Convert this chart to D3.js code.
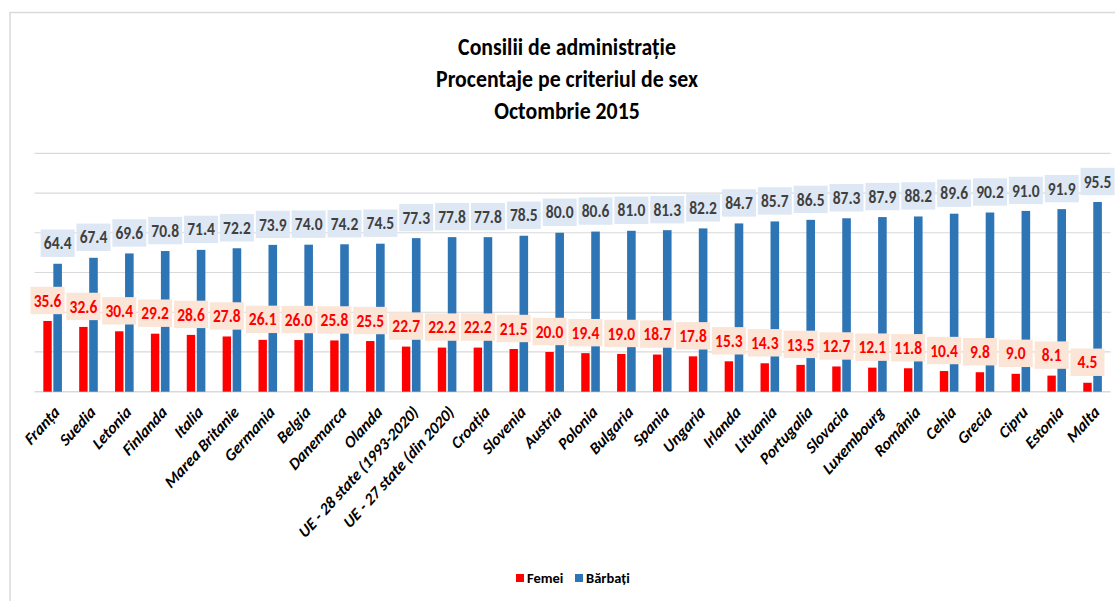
<!DOCTYPE html>
<html>
<head>
<meta charset="utf-8">
<script src="https://cdn.jsdelivr.net/npm/d3@7/dist/d3.min.js"></script>
<style>
  html, body { margin: 0; padding: 0; background: #ffffff; }
  svg { display: block; }
  text { font-family: Carlito, "Liberation Sans Narrow", "DejaVu Sans Condensed", "Liberation Sans", sans-serif; }
  text.dl { font-family: "Liberation Sans Narrow", Carlito, "DejaVu Sans Condensed", sans-serif; }
</style>
</head>
<body>
<div id="chart"></div>
<script>
const categories = ["Franța","Suedia","Letonia","Finlanda","Italia","Marea Britanie","Germania","Belgia","Danemarca","Olanda","UE - 28 state (1993-2020)","UE - 27 state (din 2020)","Croația","Slovenia","Austria","Polonia","Bulgaria","Spania","Ungaria","Irlanda","Lituania","Portugalia","Slovacia","Luxembourg","România","Cehia","Grecia","Cipru","Estonia","Malta"];
const femei = [35.6,32.6,30.4,29.2,28.6,27.8,26.1,26.0,25.8,25.5,22.7,22.2,22.2,21.5,20.0,19.4,19.0,18.7,17.8,15.3,14.3,13.5,12.7,12.1,11.8,10.4,9.8,9.0,8.1,4.5];
const barbati = [64.4,67.4,69.6,70.8,71.4,72.2,73.9,74.0,74.2,74.5,77.3,77.8,77.8,78.5,80.0,80.6,81.0,81.3,82.2,84.7,85.7,86.5,87.3,87.9,88.2,89.6,90.2,91.0,91.9,95.5];
const yTicks = [0,20,40,60,80,100,120];
const titleLines = ["Consilii de administrație","Procentaje pe criteriul de sex","Octombrie 2015"];
const seriesNames = ["Femei","Bărbați"];

const W = 1115, H = 601;
const svg = d3.select("#chart").append("svg").attr("width", W).attr("height", H);

// chart border
svg.append("path").attr("d", `M10,${H} L10,12.5 L${W},12.5`)
  .attr("fill","none").attr("stroke","#d9d9d9").attr("stroke-width",1.5);

const x = d3.scaleBand().domain(categories).range([34.8, 1110.6]).padding(0);
const y = d3.scaleLinear().domain([0,120]).range([391.7, 153.3]);

// gridlines
svg.append("g").selectAll("line").data(yTicks).join("line")
  .attr("x1", 34.5).attr("x2", 1110.6)
  .attr("y1", d => y(d)).attr("y2", d => y(d))
  .attr("stroke", "#d9d9d9").attr("stroke-width", d => d === 0 ? 1.6 : 1.2);

const cx = d => x(d) + x.bandwidth()/2;
const data = categories.map((c,i) => ({c, f: femei[i], b: barbati[i]}));

// bars
svg.append("g").selectAll("rect").data(data).join("rect")
  .attr("x", d => cx(d.c) - 9.4).attr("width", 8.4)
  .attr("y", d => y(d.f)).attr("height", d => y(0) - y(d.f))
  .attr("fill", "#ff0000");
svg.append("g").selectAll("rect").data(data).join("rect")
  .attr("x", d => cx(d.c) + 0.6).attr("width", 8.6)
  .attr("y", d => y(d.b)).attr("height", d => y(0) - y(d.b))
  .attr("fill", "#2e75b6");

// data labels
function labels(key, offset, fill, color) {
  const g = svg.append("g").selectAll("g").data(data).join("g")
    .attr("transform", d => `translate(${cx(d.c) + offset},${y(d[key]) - 20.5})`);
  g.append("rect").attr("x", -17).attr("y", -13.7).attr("width", 34).attr("height", 27.4)
    .attr("fill", fill);
  g.append("text").attr("class","dl").attr("text-anchor","middle").attr("dy","0.36em")
    .attr("transform","scale(1,1.1)")
    .attr("font-size", 15.5).attr("font-weight","bold").attr("fill", color)
    .text(d => d[key].toFixed(1));
}
labels("b", 4.9, "#dee8f4", "#404040");
labels("f", -5.2, "#fbe5d6", "#ff0000");

// x axis labels
svg.append("g").selectAll("text").data(categories).join("text")
  .attr("transform", d => `translate(${cx(d) + 4},${409}) scale(1,1.1) rotate(-45)`)
  .attr("text-anchor","end").attr("dy","0.35em")
  .attr("font-size", 15.5).attr("font-weight","bold").attr("font-style","italic")
  .attr("fill","#000000")
  .text(d => d);

// title
svg.append("g").selectAll("text").data(titleLines).join("text")
  .attr("transform", (d,i) => `translate(567,${55 + i*32}) scale(1,1.08)`)
  .attr("text-anchor","middle").attr("font-size", 21.8).attr("font-weight","bold")
  .attr("fill","#000000").text(d => d);

// legend
const legColors = ["#ff0000","#2e75b6"];
const legX = [516, 575];
const lg = svg.append("g").selectAll("g").data(seriesNames).join("g")
  .attr("transform", (d,i) => `translate(${legX[i]},574)`);
lg.append("rect").attr("width", 8).attr("height", 8).attr("fill", (d,i) => legColors[i]);
lg.append("text").attr("x", 11).attr("y", 8.5).attr("font-size", 14.5).attr("font-weight","bold")
  .attr("fill","#000000").text(d => d);
</script>
</body>
</html>
